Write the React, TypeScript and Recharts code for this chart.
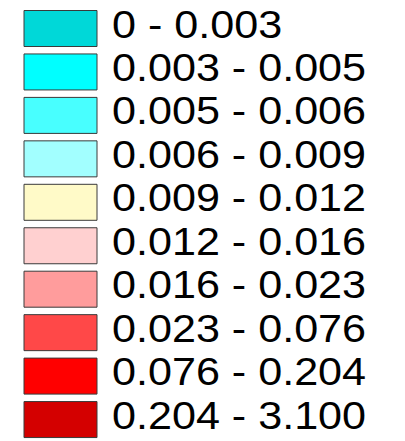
import { BarChart, Bar, XAxis, YAxis, Cell, LabelList } from 'recharts';

// Legend classes (top to bottom)
const ranges = [
    '0 - 0.003',
    '0.003 - 0.005',
    '0.005 - 0.006',
    '0.006 - 0.009',
    '0.009 - 0.012',
    '0.012 - 0.016',
    '0.016 - 0.023',
    '0.023 - 0.076',
    '0.076 - 0.204',
    '0.204 - 3.100',
];

const swatchColors = [
    '#00d8d8',
    '#00ffff',
    '#48ffff',
    '#a2ffff',
    '#fffac8',
    '#ffd0d0',
    '#ff9c9c',
    '#ff4848',
    '#ff0000',
    '#d40000',
];

// every swatch spans the full band
const swatchValues = [1, 1, 1, 1, 1, 1, 1, 1, 1, 1];

const data = ranges.map((range, i) => ({ range, value: swatchValues[i] }));

// the original labels are a bit wider than the plain font, so stretch them horizontally
const renderLabel = (props: any) => {
    const { x, y, width, value } = props;
    return (
        <text
            transform={`translate(${x + width + 15}, ${y + 27}) scale(1.135, 1)`}
            x={0}
            y={0}
            fill="#000"
            fontSize={38}
            fontFamily="'Liberation Sans', Arial, sans-serif"
            textAnchor="start"
        >
            {value}
        </text>
    );
};

export default function App() {
    return (
        <div style={{ position: 'absolute', left: 0, top: 0, width: 405, height: 441, background: '#fff' }}>
            <BarChart
                width={405}
                height={441}
                data={data}
                layout="vertical"
                margin={{ top: 6.5, right: 308, bottom: 0, left: 24 }}
                barSize={36}
            >
                <XAxis type="number" domain={[0, 1]} hide />
                <YAxis type="category" dataKey="range" hide />
                <Bar dataKey="value" stroke="#3a3a3a" strokeWidth={1} isAnimationActive={false}>
                    {data.map((d, i) => (
                        <Cell key={d.range} fill={swatchColors[i]} />
                    ))}
                    <LabelList dataKey="range" content={renderLabel} />
                </Bar>
            </BarChart>
        </div>
    );
}
